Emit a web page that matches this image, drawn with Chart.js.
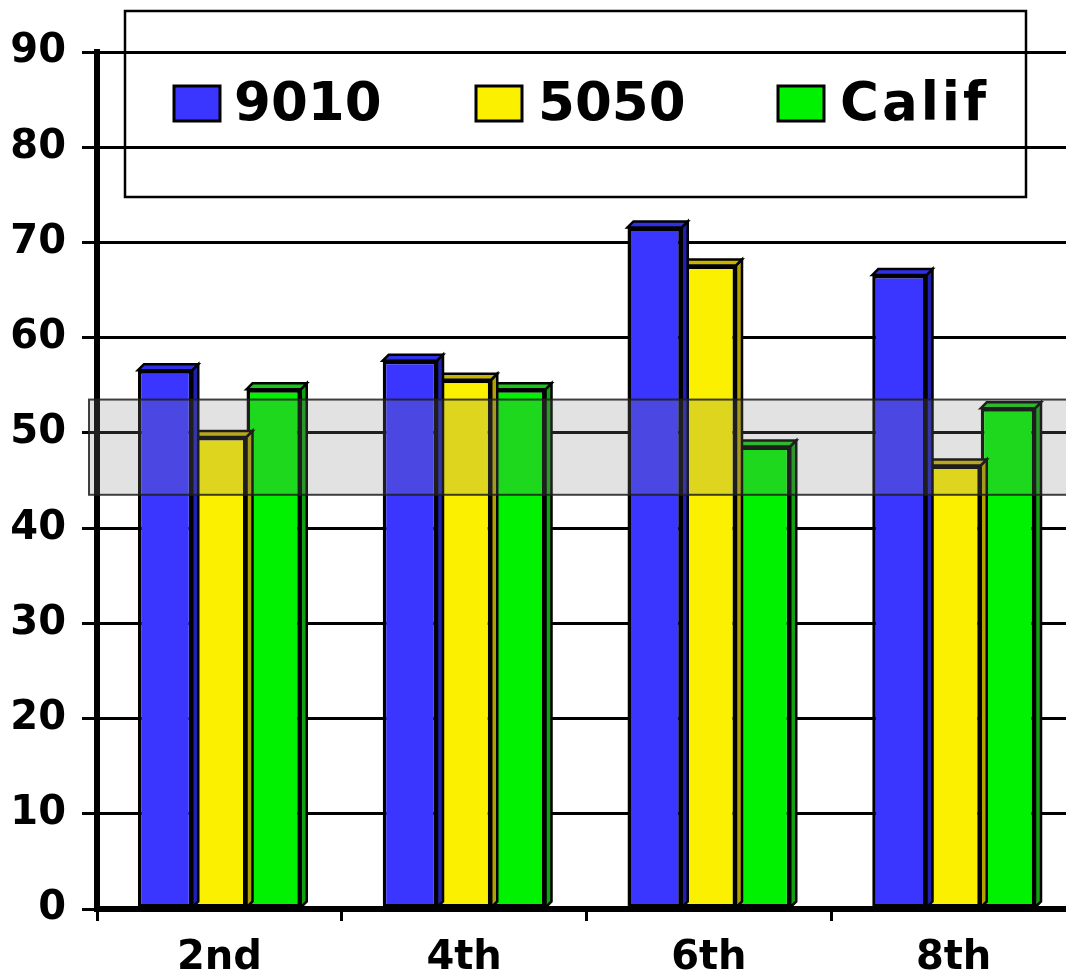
<!DOCTYPE html>
<html>
<head>
<meta charset="utf-8">
<script src="https://cdn.jsdelivr.net/npm/chart.js@4/dist/chart.umd.min.js"></script>
<style>
  html, body { margin: 0; padding: 0; background: #fff; overflow: hidden; }
  #wrap { width: 1066px; height: 970px; overflow: hidden; position: relative; }
  canvas { display: block; }
</style>
</head>
<body>
<div id="wrap"><canvas id="c" width="1080" height="970"></canvas></div>
<script>
// Grade levels along the x axis
const grades = ['2nd', '4th', '6th', '8th'];

// Scores per program
const series9010 = [57, 58, 72, 67];
const series5050 = [50, 56, 68, 47];
const seriesCalif = [55, 55, 49, 53];

const seriesNames = ['9010', '5050', 'Calif'];

// Reference band shaded across the plot (low / high value)
const bandLow = 43.5;
const bandHigh = 53.5;

// Y axis range
const yMin = 0;
const yMax = 90;
const yStep = 10;

const fills = ['#3a36ff', '#faf000', '#00f200'];
const topFills = ['#3030e8', '#c8b400', '#18c818'];
const sideFills = ['#2020b0', '#b0a000', '#10a010'];

const FONT = "'DejaVu Sans', sans-serif";
const DEPTH = 6;   // size of the extrusion
const DROP = 4;    // how far the front face sits below the value

// Draws the bars with a shallow extrusion: the front face sits a little lower,
// the top and right faces reach back towards the value.
const bar3d = {
  id: 'bar3d',
  beforeDatasetDraw(chart, args) {
    const meta = chart.getDatasetMeta(args.index);
    meta.data.forEach(el => { el.y += DROP; });
  },
  afterDatasetDraw(chart, args) {
    const ctx = chart.ctx;
    const i = args.index;
    const meta = chart.getDatasetMeta(i);
    ctx.save();
    ctx.lineWidth = 2.5;
    ctx.strokeStyle = '#000';
    ctx.lineJoin = 'miter';
    meta.data.forEach(el => {
      const l = el.x - el.width / 2;
      const r = el.x + el.width / 2;
      const t = el.y;
      const b = el.base;
      // right face
      ctx.beginPath();
      ctx.moveTo(r, t);
      ctx.lineTo(r + DEPTH, t - DEPTH);
      ctx.lineTo(r + DEPTH, b - DEPTH);
      ctx.lineTo(r, b);
      ctx.closePath();
      ctx.fillStyle = sideFills[i];
      ctx.fill();
      ctx.stroke();
      // top face
      ctx.beginPath();
      ctx.moveTo(l, t);
      ctx.lineTo(l + DEPTH, t - DEPTH);
      ctx.lineTo(r + DEPTH, t - DEPTH);
      ctx.lineTo(r, t);
      ctx.closePath();
      ctx.fillStyle = topFills[i];
      ctx.fill();
      ctx.stroke();
      el.y -= DROP;
    });
    ctx.restore();
  }
};

// Translucent grey band laid over the bars
const band = {
  id: 'band',
  afterDatasetsDraw(chart) {
    const ctx = chart.ctx;
    const y = chart.scales.y;
    const top = y.getPixelForValue(bandHigh);
    const bot = y.getPixelForValue(bandLow);
    const left = chart.chartArea.left - 8;
    const right = chart.width;
    ctx.save();
    ctx.fillStyle = 'rgba(130,130,130,0.23)';
    ctx.fillRect(left, top, right - left, bot - top);
    ctx.strokeStyle = 'rgba(30,30,30,0.85)';
    ctx.lineWidth = 2;
    ctx.strokeRect(left, top, right - left + 4, bot - top);
    ctx.restore();
  }
};

// Boxed legend floating over the top of the plot
const boxLegend = {
  id: 'boxLegend',
  afterDraw(chart) {
    const ctx = chart.ctx;
    ctx.save();
    ctx.strokeStyle = '#000';
    ctx.lineWidth = 2.5;
    ctx.strokeRect(125, 11, 901, 186);
    const swatchX = [174, 476, 778];
    const textX = [234, 538, 840];
    const spacing = [0, 0, 3];
    ctx.font = 'bold 53px ' + FONT;
    ctx.textBaseline = 'alphabetic';
    ctx.textAlign = 'left';
    chart.data.datasets.forEach((ds, i) => {
      ctx.fillStyle = ds.backgroundColor;
      ctx.fillRect(swatchX[i], 86, 46, 35);
      ctx.lineWidth = 3;
      ctx.strokeStyle = '#000';
      ctx.strokeRect(swatchX[i], 86, 46, 35);
      ctx.fillStyle = '#000';
      ctx.letterSpacing = spacing[i] + 'px';
      ctx.fillText(ds.label, textX[i], 120);
    });
    ctx.restore();
  }
};

const valueSets = [series9010, series5050, seriesCalif];

new Chart(document.getElementById('c'), {
  type: 'bar',
  data: {
    labels: grades,
    datasets: valueSets.map((vals, i) => ({
      label: seriesNames[i],
      data: vals,
      backgroundColor: fills[i],
      borderColor: '#000',
      borderWidth: 3.5,
      borderSkipped: false,
      categoryPercentage: 0.665,
      barPercentage: 1.0
    }))
  },
  options: {
    responsive: false,
    animation: false,
    devicePixelRatio: 1,
    layout: { padding: { top: 52, right: 4, left: 0, bottom: 0 } },
    plugins: {
      legend: { display: false },
      tooltip: { enabled: false }
    },
    scales: {
      y: {
        min: yMin,
        max: yMax,
        ticks: {
          stepSize: yStep,
          color: '#000',
          padding: 16,
          font: { family: FONT, size: 40, weight: 'bold' }
        },
        grid: {
          color: '#000',
          lineWidth: 3,
          tickLength: 15,
          drawTicks: true
        },
        border: { display: true, color: '#000', width: 6 },
        afterFit(scale) { scale.width = 97; }
      },
      x: {
        ticks: {
          color: '#000',
          padding: 14,
          font: { family: FONT, size: 40, weight: 'bold' }
        },
        grid: {
          drawOnChartArea: false,
          offset: true,
          color: '#000',
          lineWidth: 3,
          tickLength: 12
        },
        border: { display: true, color: '#000', width: 6 },
        afterFit(scale) { scale.height = 61; }
      }
    }
  },
  plugins: [bar3d, band, boxLegend]
});
</script>
</body>
</html>
